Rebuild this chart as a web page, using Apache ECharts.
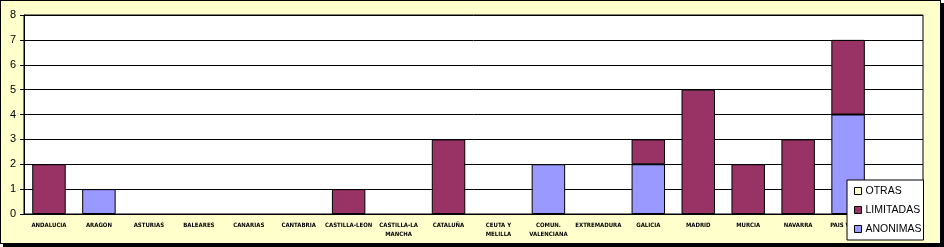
<!DOCTYPE html>
<html><head><meta charset="utf-8">
<script src="https://cdn.jsdelivr.net/npm/echarts@6/dist/echarts.min.js"></script>
<style>
html,body{margin:0;padding:0;background:#fff;}
#wrap{position:absolute;left:0;top:0;width:944px;height:247px;}
#frame{position:absolute;left:0;top:0;width:939px;height:242px;border:1px solid #000;background:#FFFFCC;box-shadow:3px 3px 0 #000;}
#c{position:absolute;left:0;top:0;width:944px;height:247px;}
</style></head>
<body>
<div id="wrap"><div id="frame"></div><div id="c"></div></div>
<script>
const categories = ['ANDALUCIA','ARAGON','ASTURIAS','BALEARES','CANARIAS','CANTABRIA','CASTILLA-LEON','CASTILLA-LA\nMANCHA','CATALUÑA','CEUTA Y\nMELILLA','COMUN.\nVALENCIANA','EXTREMADURA','GALICIA','MADRID','MURCIA','NAVARRA','PAIS VASCO',''];
const anonimas  = [0,1,0,0,0,0,0,0,0,0,2,0,2,0,0,0,4,0];
const limitadas = [2,0,0,0,0,0,1,0,3,0,0,0,1,5,2,3,3,0];
const otras     = [0,0,0,0,0,0,0,0,0,0,0,0,0,0,0,0,0,0];
const legendNames = ['OTRAS','LIMITADAS','ANONIMAS'];
const yTicks = [0,1,2,3,4,5,6,7,8];

const chart = echarts.init(document.getElementById('c'), null, {renderer:'canvas'});
const bar = (name, data, color) => ({
  name, type:'bar', stack:'s', data: data.map(v => v === 0 ? null : v),
  barCategoryGap:'33%',
  itemStyle:{color, borderColor:'#000', borderWidth:1},
  emphasis:{disabled:true}
});
chart.setOption({
  animation:false,
  backgroundColor:'transparent',
  grid:{left:24, right:21, top:15, bottom:33, show:true, backgroundColor:'#fff', borderColor:'#000', borderWidth:1},
  xAxis:{
    type:'category', data:categories,
    axisLine:{lineStyle:{color:'#000', width:1}},
    axisTick:{show:false},
    axisLabel:{interval:0, fontFamily:'DejaVu Sans Condensed', fontWeight:'bold', fontSize:6, color:'#000', margin:7, lineHeight:9}
  },
  yAxis:{
    type:'value', min:yTicks[0], max:yTicks[yTicks.length-1], interval:1,
    axisLine:{show:true, lineStyle:{color:'#000', width:1}},
    axisTick:{show:true, length:4, lineStyle:{color:'#000'}},
    splitLine:{lineStyle:{color:'#000', width:1}},
    axisLabel:{fontFamily:'Liberation Sans', fontSize:11, color:'#000', margin:8}
  },
  legend:{
    data:legendNames, orient:'vertical', left:847, top:180,
    itemWidth:7, itemHeight:7, itemGap:7, icon:'rect',
    padding:[5,2,5,7],
    backgroundColor:'#fff', borderColor:'#000', borderWidth:1,
    textStyle:{fontFamily:'Liberation Sans', fontSize:10.5, lineHeight:12, color:'#000', padding:[0,0,0,-1]},
    itemStyle:{borderColor:'#000', borderWidth:1},
    z:10
  },
  series:[
    bar('ANONIMAS', anonimas, '#9999FF'),
    bar('LIMITADAS', limitadas, '#993366'),
    bar('OTRAS', otras, '#FFFFCC')
  ]
});
</script>
</body></html>
